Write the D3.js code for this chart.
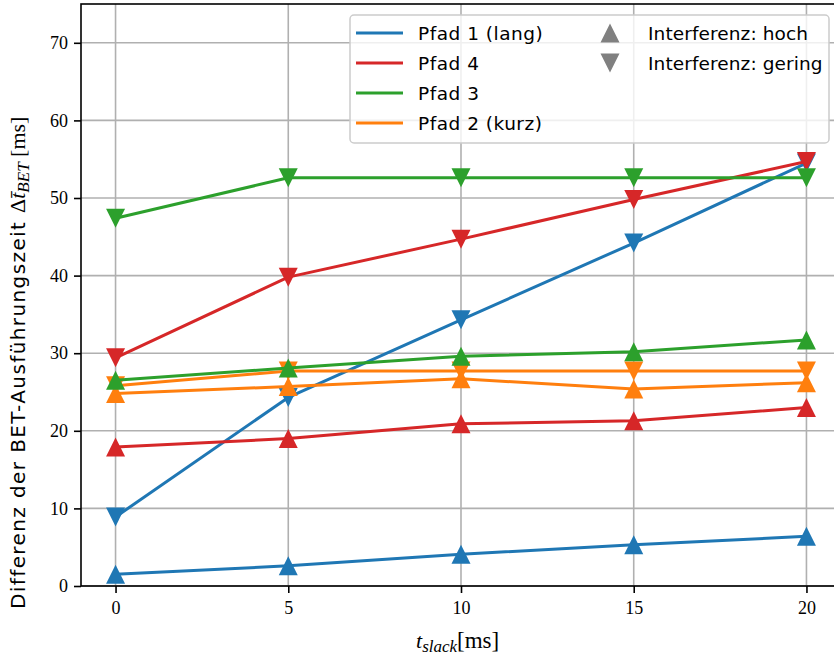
<!DOCTYPE html>
<html><head><meta charset="utf-8">
<script src="https://cdn.jsdelivr.net/npm/d3@7"></script>
<style>
html,body{margin:0;padding:0;background:#fff;}
svg{display:block;}
</style></head>
<body>
<svg id="chart" width="834" height="658"></svg>
<script>
// ---- data ----
const xValues = [0, 5, 10, 15, 20];
const xTicks = [0, 5, 10, 15, 20];
const yTicks = [0, 10, 20, 30, 40, 50, 60, 70];

const pfad1Hoch   = [1.5, 2.6, 4.1, 5.3, 6.4];
const pfad1Gering = [8.9, 24.3, 34.3, 44.2, 54.5];
const pfad2Hoch   = [24.8, 25.7, 26.7, 25.4, 26.2];
const pfad2Gering = [25.8, 27.7, 27.7, 27.7, 27.7];
const pfad4Hoch   = [17.9, 19.0, 20.9, 21.3, 23.0];
const pfad4Gering = [29.4, 39.8, 44.7, 49.8, 54.7];
const pfad3Hoch   = [26.5, 28.1, 29.6, 30.2, 31.7];
const pfad3Gering = [47.4, 52.6, 52.6, 52.6, 52.6];

const pathNames  = ["Pfad 1 (lang)", "Pfad 4", "Pfad 3", "Pfad 2 (kurz)"];
const pathColors = ["#1f77b4", "#d62728", "#2ca02c", "#ff7f0e"];
const markerNames = ["Interferenz: hoch", "Interferenz: gering"];

// draw order
const series = [
  {color: "#1f77b4", hoch: pfad1Hoch, gering: pfad1Gering},
  {color: "#ff7f0e", hoch: pfad2Hoch, gering: pfad2Gering},
  {color: "#d62728", hoch: pfad4Hoch, gering: pfad4Gering},
  {color: "#2ca02c", hoch: pfad3Hoch, gering: pfad3Gering}
];

// ---- layout ----
const L = 81, R = 841, T = 4, B = 586;
const svg = d3.select("#chart");
const x = d3.scaleLinear().domain([-1, 21]).range([L, R]);
const y = d3.scaleLinear().domain([0, 75]).range([B, T]);

const serif = "'Liberation Serif', 'DejaVu Serif', serif";
const sans = "'DejaVu Sans', sans-serif";

// grid
const grid = svg.append("g");
grid.selectAll("line.gx").data(xTicks).enter().append("line")
  .attr("x1", d => x(d)).attr("x2", d => x(d)).attr("y1", T).attr("y2", B)
  .attr("stroke", "#b0b0b0").attr("stroke-width", 1.6);
grid.selectAll("line.gy").data(yTicks).enter().append("line")
  .attr("x1", L).attr("x2", R).attr("y1", d => y(d)).attr("y2", d => y(d))
  .attr("stroke", "#b0b0b0").attr("stroke-width", 1.6);

// series
const line = d3.line().x((d, i) => x(xValues[i])).y(d => y(d));
function tri(up, s) {
  return up ? `M0,${-s}L${s},${s}L${-s},${s}Z` : `M0,${s}L${s},${-s}L${-s},${-s}Z`;
}
const plot = svg.append("g");
series.forEach(s => {
  [["hoch", true], ["gering", false]].forEach(([k, up]) => {
    const vals = s[k];
    plot.append("path").attr("d", line(vals)).attr("fill", "none")
      .attr("stroke", s.color).attr("stroke-width", 3).attr("stroke-linejoin", "round");
    plot.selectAll(null).data(vals).enter().append("path")
      .attr("d", tri(up, 9.5))
      .attr("transform", (d, i) => `translate(${x(xValues[i])},${y(d)})`)
      .attr("fill", s.color);
  });
});

// spines
svg.append("rect").attr("x", L).attr("y", T).attr("width", R - L).attr("height", B - T)
  .attr("fill", "none").attr("stroke", "#000").attr("stroke-width", 1.6);

// axes ticks
const xAxis = d3.axisBottom(x).tickValues(xTicks).tickSize(7).tickPadding(8);
const gx = svg.append("g").attr("transform", `translate(0,${B})`).call(xAxis);
gx.select(".domain").remove();
gx.selectAll(".tick line").attr("stroke-width", 1.6);
gx.selectAll(".tick text").attr("font-family", serif).attr("font-size", 18).attr("fill", "#000");

const yAxis = d3.axisLeft(y).tickValues(yTicks).tickSize(7).tickPadding(6);
const gy = svg.append("g").attr("transform", `translate(${L},0)`).call(yAxis);
gy.select(".domain").remove();
gy.selectAll(".tick line").attr("stroke-width", 1.6);
gy.selectAll(".tick text").attr("font-family", serif).attr("font-size", 18).attr("fill", "#000");

// x label
const xl = svg.append("text").attr("x", 416).attr("y", 648)
  .attr("text-anchor", "start").attr("font-family", serif).attr("font-size", 22);
xl.append("tspan").attr("font-style", "italic").text("t");
xl.append("tspan").attr("font-style", "italic").attr("font-size", 17).attr("dy", 4).text("slack");
xl.append("tspan").attr("dy", -4).attr("font-size", 23).text("[ms]");

// y label
const yl = svg.append("text").attr("transform", `translate(25,609) rotate(-90)`)
  .attr("text-anchor", "start").attr("font-size", 20);
yl.append("tspan").attr("font-family", sans).attr("letter-spacing", 1.4).text("Differenz der BET-Ausführungszeit ");
yl.append("tspan").attr("font-family", serif).attr("font-size", 22).text("Δ");
yl.append("tspan").attr("font-family", serif).attr("font-size", 22).attr("font-style", "italic").text("t\u0304");
yl.append("tspan").attr("font-family", serif).attr("font-style", "italic").attr("font-size", 17).attr("dy", 4).text("BET");
yl.append("tspan").attr("font-family", serif).attr("font-size", 22).attr("dy", -4).text(" [ms]");

// legend
const lg = svg.append("g");
lg.append("rect").attr("x", 350).attr("y", 15).attr("width", 479).attr("height", 128)
  .attr("rx", 4).attr("fill", "#fff").attr("fill-opacity", 0.8)
  .attr("stroke", "#cccccc").attr("stroke-width", 1.5);
pathNames.forEach((n, i) => {
  const cy = 33 + i * 30;
  lg.append("line").attr("x1", 356).attr("x2", 403).attr("y1", cy).attr("y2", cy)
    .attr("stroke", pathColors[i]).attr("stroke-width", 3);
  lg.append("text").attr("x", 418).attr("y", cy + 6.5).attr("font-family", sans)
    .attr("font-size", 18.5).attr("letter-spacing", 0.5).text(n);
});
markerNames.forEach((n, i) => {
  const cy = 33 + i * 30;
  lg.append("path").attr("d", tri(i === 0, 9.5)).attr("transform", `translate(610,${cy})`)
    .attr("fill", "#808080");
  lg.append("text").attr("x", 648).attr("y", cy + 6.5).attr("font-family", sans)
    .attr("font-size", 18.5).attr("letter-spacing", 0.1).text(n);
});
</script>
</body></html>
